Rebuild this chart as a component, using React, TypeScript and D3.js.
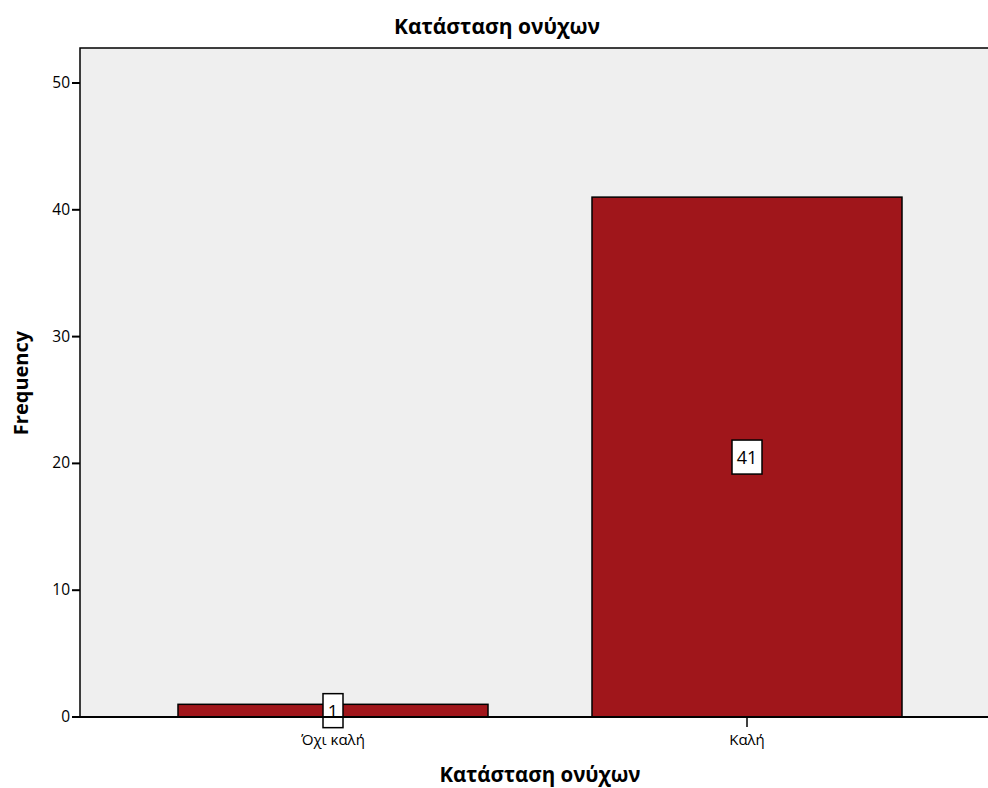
import React from "react";
import * as d3 from "d3";

const categories = ["Όχι καλή", "Καλή"];
const counts = [1, 41];
const yTicks = [0, 10, 20, 30, 40, 50];
const chartTitle = "Κατάσταση ονύχων";
const xTitle = "Κατάσταση ονύχων";
const yTitle = "Frequency";

const W = 988, H = 788;
const plotLeft = 80, plotTop = 48, plotBottom = 717, plotRight = 990;

export default function App() {
  const x = d3.scaleBand<string>().domain(categories).range([126, 954]).paddingInner(0.25).paddingOuter(0.125);
  const y = d3.scaleLinear().domain([0, 50]).range([plotBottom, 83]);
  const font = "'Open Sans', 'Noto Sans', sans-serif";
  const bw = 310;
  return (
    <svg width={W} height={H} style={{ position: "absolute", left: 0, top: 0 }} fontFamily={font}>
      <rect x={0} y={0} width={W} height={H} fill="#fff" />
      <rect x={plotLeft} y={plotTop} width={plotRight - plotLeft} height={plotBottom - plotTop} fill="#efefef" stroke="#000" strokeWidth={1.5} />
      <text x={497} y={34} textAnchor="middle" fontSize={21} fontWeight="bold">{chartTitle}</text>
      {categories.map((c, i) => {
        const cx = (x(c) as number) + x.bandwidth() / 2;
        return (
          <g key={c}>
            <rect x={cx - bw / 2} y={y(counts[i])} width={bw} height={plotBottom - y(counts[i])} fill="#a0161b" stroke="#000" strokeWidth={1.5} />
            <line x1={cx} x2={cx} y1={plotBottom} y2={plotBottom + 10} stroke="#000" strokeWidth={1.5} />
            <text x={cx} y={plotBottom + 28} textAnchor="middle" fontSize={15}>{c}</text>
          </g>
        );
      })}
      {categories.map((c, i) => {
        const cx = (x(c) as number) + x.bandwidth() / 2;
        const cy = y(counts[i] / 2);
        const label = String(counts[i]);
        const w = label.length * 10 + 10;
        return (
          <g key={"l" + c}>
            <rect x={cx - w / 2} y={cy - 17} width={w} height={34} fill="#fff" stroke="#000" strokeWidth={1.5} />
            <text x={cx} y={cy + 7} textAnchor="middle" fontSize={18}>{label}</text>
          </g>
        );
      })}
      <line x1={plotLeft} x2={plotRight} y1={plotBottom} y2={plotBottom} stroke="#000" strokeWidth={2} />
      {yTicks.map((t) => (
        <g key={t}>
          <line x1={plotLeft - 8} x2={plotLeft} y1={y(t)} y2={y(t)} stroke="#000" strokeWidth={2} />
          <text x={plotLeft - 10} y={y(t) + 5} textAnchor="end" fontSize={15.5}>{t}</text>
        </g>
      ))}
      <text x={540} y={782} textAnchor="middle" fontSize={20.5} fontWeight="bold">{xTitle}</text>
      <text transform={`translate(28, ${383}) rotate(-90)`} textAnchor="middle" fontSize={20} fontWeight="bold">{yTitle}</text>
    </svg>
  );
}
